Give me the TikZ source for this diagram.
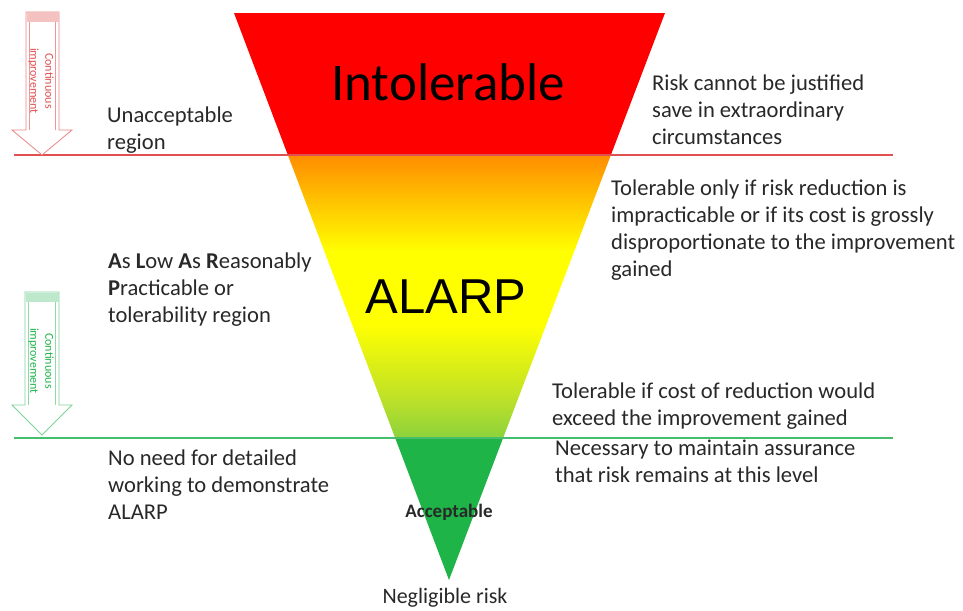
\documentclass[tikz,border=0pt]{standalone}
\usepackage{fontspec}
\setmainfont{Carlito}
\newfontfamily\arialfont{Liberation Sans}

\definecolor{intolred}{RGB}{255,0,0}
\definecolor{fadeorange}{RGB}{255,140,0}
\definecolor{fadeyellow}{RGB}{255,255,0}
\definecolor{fadelime}{RGB}{190,225,40}
\definecolor{fadegreen}{RGB}{140,210,60}
\definecolor{accgreen}{RGB}{30,180,72}
\definecolor{linered}{RGB}{225,80,80}
\definecolor{linegreen}{RGB}{70,190,110}
\definecolor{textgray}{RGB}{40,40,40}

\pgfdeclareverticalshading{alarpfade}{100bp}{color(0bp)=(fadegreen); color(25bp)=(fadegreen); color(32bp)=(fadelime); color(45bp)=(fadeyellow); color(58bp)=(fadeyellow); color(75bp)=(fadeorange); color(100bp)=(fadeorange)}

\begin{document}
\begin{tikzpicture}[x=1pt,y=-1pt,
		desc/.style={anchor=north west, inner sep=0pt, align=left, text=textgray, font=\fontsize{22.6}{27}\selectfont},
		band/.style={anchor=base, inner sep=0pt},
		arrowtext/.style={rotate=-90, inner sep=0pt, align=center, font=\fontsize{12}{15}\selectfont}]
		\useasboundingbox (0,0) rectangle (963,610);
		
		% Dreieck
		\coordinate (TL) at (234,13);
		\coordinate (TR) at (665,13);
		\coordinate (Apex) at (449,580);
		\begin{scope}
			\clip (TL) -- (TR) -- (Apex) -- cycle;
			\fill[intolred] (0,13) rectangle (963,155);
			\shade[shading=alarpfade] (0,155) rectangle (963,438);
			\fill[accgreen] (0,438) rectangle (963,581);
		\end{scope}
		
		% Grenzlinien
		\coordinate (R1) at (14,155);
		\coordinate (R2) at (893,155);
		\coordinate (G1) at (14,438);
		\coordinate (G2) at (893,438);
		\draw[linered, line width=2pt] (R1) -- (R2);
		\draw[linegreen, line width=2pt] (G1) -- (G2);
		
		% Pfeile links
		\draw[linered!70, fill=white, line width=0.8pt] (26,12) -- (59,12) -- (59,130) -- (72,130) -- (42,155) -- (12,130) -- (26,130) -- cycle;
		\fill[linered!35] (26.5,12.5) rectangle (58.5,22);
		\draw[linered!60] (29.5,22) -- (29.5,130) (55.5,22) -- (55.5,130);
		\node[arrowtext, text=linered] (impr1) at (41,81) {Continuous\\improvement};
		
		\draw[linegreen!70, fill=white, line width=0.8pt] (25,292) -- (59,292) -- (59,405) -- (72,405) -- (42,435) -- (12,405) -- (25,405) -- cycle;
		\fill[linegreen!35] (25.5,292.5) rectangle (58.5,302);
		\draw[linegreen!60] (28.5,302) -- (28.5,405) (55.5,302) -- (55.5,405);
		\node[arrowtext, text=accgreen] (impr2) at (41,361) {Continuous\\improvement};
		
		% Bereiche im Dreieck
		\node[band, font=\fontsize{53}{60}\selectfont] (intol) at (448,100) {Intolerable};
		\node[band, font=\arialfont\fontsize{49}{56}\selectfont] (alarp) at (446,313) {ALARP};
		\node[band, text=textgray, font=\bfseries\fontsize{19}{23}\selectfont] (accept) at (449,517) {Acceptable};
		\node[band, text=textgray, font=\fontsize{22}{27}\selectfont] (neglig) at (445,603) {Negligible risk};
		
		% Texte links
		\node[desc] (unacc) at (107,107) {Unacceptable\\region};
		\node[desc] (alarpleft) at (108,253) {\textbf{A}s \textbf{L}ow \textbf{A}s \textbf{R}easonably\\\textbf{P}racticable or\\tolerability region};
		\node[desc] (noneed) at (108,450) {No need for detailed\\working to demonstrate\\ALARP};
		
		% Texte rechts
		\node[desc] (nojust) at (652,75) {Risk cannot be justified\\save in extraordinary\\circumstances};
		\node[desc] (tolonly) at (611,180) {Tolerable only if risk reduction is\\impracticable or if its cost is grossly\\disproportionate to the improvement\\gained};
		\node[desc] (tolif) at (552,383) {Tolerable if cost of reduction would\\exceed the improvement gained};
		\node[desc] (necess) at (555,440) {Necessary to maintain assurance\\that risk remains at this level};
	\end{tikzpicture}
\end{document}
